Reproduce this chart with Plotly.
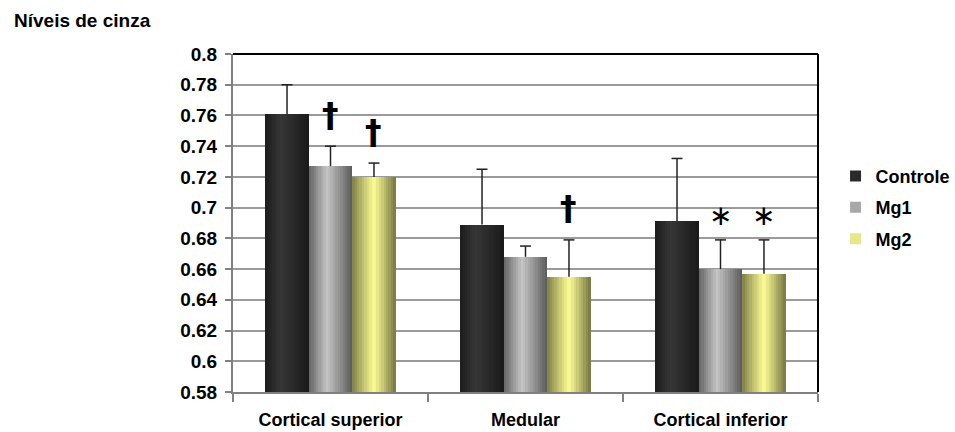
import plotly.graph_objects as go

# Data
categories = ["Cortical superior", "Medular", "Cortical inferior"]
series_names = ["Controle", "Mg1", "Mg2"]
values = {
    "Controle": [0.761, 0.689, 0.691],
    "Mg1": [0.727, 0.668, 0.660],
    "Mg2": [0.720, 0.655, 0.657],
}
errors = {
    "Controle": [0.019, 0.036, 0.041],
    "Mg1": [0.013, 0.007, 0.019],
    "Mg2": [0.009, 0.024, 0.022],
}
# significance marks: (series, category index, symbol)
marks = [
    ("Mg1", 0, "†"),
    ("Mg2", 0, "†"),
    ("Mg2", 1, "†"),
    ("Mg1", 2, "∗"),
    ("Mg2", 2, "∗"),
]
y_ticks = [0.58, 0.6, 0.62, 0.64, 0.66, 0.68, 0.7, 0.72, 0.74, 0.76, 0.78, 0.8]
y_tick_text = ["0.58", "0.6", "0.62", "0.64", "0.66", "0.68", "0.7", "0.72",
               "0.74", "0.76", "0.78", "0.8"]

# Horizontal colour gradients for each series (position, rgb)
gradients = {
    "Controle": [(0.0, (28, 28, 28)), (0.35, (54, 54, 54)), (1.0, (26, 26, 26))],
    "Mg1": [(0.0, (100, 100, 100)), (0.42, (198, 198, 198)), (1.0, (90, 90, 90))],
    "Mg2": [(0.0, (128, 128, 72)), (0.5, (255, 255, 150)), (1.0, (118, 118, 68))],
}
legend_colors = {"Controle": "#2a2a2a", "Mg1": "#a8a8a8", "Mg2": "#e6e68a"}

BAR_W = 0.223
CAP_HALF = 0.028
N_STRIPS = 18
FONT = "Liberation Sans, Arial, sans-serif"


def grad_color(stops, t):
    for (p0, c0), (p1, c1) in zip(stops[:-1], stops[1:]):
        if p0 <= t <= p1:
            f = (t - p0) / (p1 - p0)
            c = [round(a + (b - a) * f) for a, b in zip(c0, c1)]
            return f"rgb({c[0]},{c[1]},{c[2]})"
    c = stops[-1][1]
    return f"rgb({c[0]},{c[1]},{c[2]})"


def centers(k):
    return [i + (k - 1) * BAR_W for i in range(len(categories))]


fig = go.Figure()

for k, name in enumerate(series_names):
    xc = centers(k)
    sw = BAR_W / N_STRIPS
    for s in range(N_STRIPS):
        t = (s + 0.5) / N_STRIPS
        fig.add_trace(go.Bar(
            x=[c - BAR_W / 2 + (s + 0.5) * sw for c in xc],
            y=values[name],
            width=sw * 1.04,
            marker=dict(color=grad_color(gradients[name], t), line=dict(width=0)),
            showlegend=False,
            hoverinfo="skip",
        ))
    # upper error whiskers with a cap
    ex, ey = [], []
    for c, v, e in zip(xc, values[name], errors[name]):
        ex += [c, c, None, c - CAP_HALF, c + CAP_HALF, None]
        ey += [v, v + e, None, v + e, v + e, None]
    fig.add_trace(go.Scatter(
        x=ex, y=ey, mode="lines",
        line=dict(color="#222222", width=1.5),
        showlegend=False, hoverinfo="skip",
    ))
    # legend entry: small square swatch
    fig.add_trace(go.Scatter(
        x=[None], y=[None], name=f"<b>{name}</b>", mode="markers",
        marker=dict(symbol="square", size=11, color=legend_colors[name],
                    line=dict(width=0)),
        legendgroup=name,
    ))

for name, ci, sym in marks:
    k = series_names.index(name)
    x = centers(k)[ci]
    y = values[name][ci] + errors[name][ci]
    if sym == "†":
        fig.add_annotation(x=x, y=y, text="<b>†</b>", showarrow=False,
                           yanchor="middle", yshift=31,
                           font=dict(family="DejaVu Sans, sans-serif", size=33, color="#000000"))
    else:
        fig.add_annotation(x=x, y=y, text=sym, showarrow=False,
                           yanchor="middle", yshift=24,
                           font=dict(family="DejaVu Sans, sans-serif", size=28, color="#000000"))

fig.add_annotation(xref="paper", yref="paper", x=-0.378, y=1.10, xanchor="left",
                   yanchor="middle", showarrow=False,
                   text="<b>Níveis de cinza</b>",
                   font=dict(family=FONT, size=19, color="black"))

# top and right frame lines
fig.add_shape(type="line", xref="paper", yref="paper", x0=0, x1=1, y0=1, y1=1,
              line=dict(color="black", width=2))
fig.add_shape(type="line", xref="paper", yref="paper", x0=1, x1=1, y0=0, y1=1,
              line=dict(color="black", width=2))

fig.update_layout(
    width=955, height=432,
    margin=dict(l=233, r=137, t=54, b=40, autoexpand=False),
    paper_bgcolor="white", plot_bgcolor="white",
    barmode="overlay", bargap=0,
    font=dict(family=FONT, color="black"),
    legend=dict(x=1.03, y=0.693, xanchor="left", yanchor="top",
                font=dict(family=FONT, size=18, color="black"),
                traceorder="grouped", tracegroupgap=5,
                itemwidth=30),
    showlegend=True,
)

fig.update_xaxes(
    range=[-0.5, 2.5],
    tickmode="array", tickvals=list(range(len(categories))),
    ticktext=[f"<b>{c}</b>" for c in categories],
    tickfont=dict(family=FONT, size=18, color="black"),
    ticks="", ticklabelstandoff=10, automargin=False,
    showline=True, linecolor="#808080", linewidth=2,
    showgrid=False, zeroline=False,
    minor=dict(tick0=-0.5, dtick=1, ticks="outside", ticklen=8,
               tickcolor="#808080", tickwidth=1.5, showgrid=False),
)
fig.update_yaxes(
    range=[0.58, 0.8],
    tickmode="array", tickvals=y_ticks,
    ticktext=[f"<b>{t}</b>" for t in y_tick_text],
    tickfont=dict(family=FONT, size=19, color="black"),
    ticks="outside", ticklen=6, tickcolor="#808080", tickwidth=1.5,
    ticklabelstandoff=4, automargin=False,
    showline=True, linecolor="#808080", linewidth=2,
    showgrid=True, gridcolor="#9a9a9a", gridwidth=1.5,
    zeroline=False,
)

fig.write_html("out.html")
